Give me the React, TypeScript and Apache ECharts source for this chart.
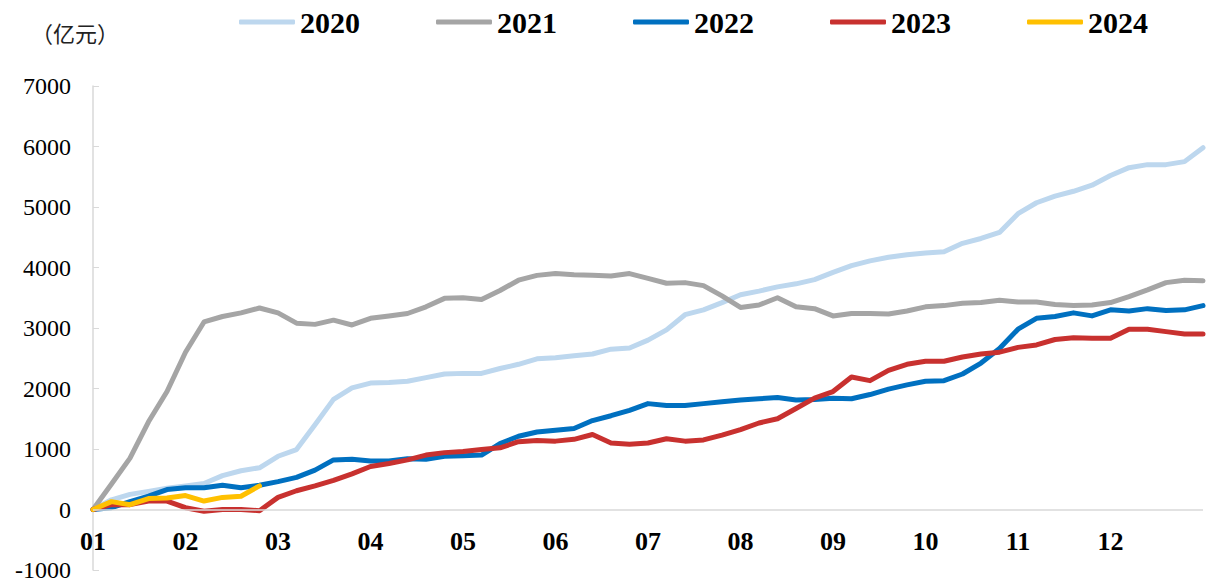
import React, { useEffect, useRef } from "react";
import * as echarts from "echarts";

// x positions in months from Jan 1 (step 0.2 month)
const STEP = 0.2;
const monthLabels = ["01", "02", "03", "04", "05", "06", "07", "08", "09", "10", "11", "12"];
const yTicks = { min: -1000, max: 7000, interval: 1000 };

const s2020 = [
  0, 160, 250, 300, 350, 390, 430, 560, 640, 690, 880,
  990, 1400, 1820, 2010, 2090, 2100, 2120, 2180, 2240, 2250,
  2250, 2330, 2400, 2490, 2510, 2540, 2570, 2650, 2670, 2800,
  2970, 3220, 3300, 3420, 3550, 3610, 3680, 3730, 3800, 3920,
  4030, 4110, 4170, 4210, 4240, 4260, 4400, 4480, 4580, 4890,
  5070, 5180, 5260, 5360, 5520, 5650, 5700, 5700, 5750, 5980,
];
const s2021 = [
  0, 420, 850, 1450, 1950, 2600, 3100, 3190, 3250, 3330, 3250,
  3080, 3060, 3130, 3050, 3160, 3200, 3240, 3350, 3490, 3500,
  3470, 3620, 3790, 3870, 3900, 3880, 3870, 3860, 3900, 3820,
  3740, 3750, 3700, 3530, 3340, 3380, 3500, 3350, 3320, 3200,
  3240, 3240, 3230, 3280, 3350, 3370, 3410, 3420, 3460, 3430,
  3430, 3390, 3370, 3380, 3420, 3520, 3630, 3750, 3790, 3780,
];
const s2022 = [
  0, 30, 130, 220, 330, 360, 360, 400, 360, 400, 460,
  530, 650, 820, 830, 800, 800, 840, 830, 880, 890,
  900, 1090, 1210, 1280, 1310, 1340, 1470, 1550, 1640, 1750,
  1720, 1720, 1750, 1780, 1810, 1830, 1850, 1810, 1820, 1840,
  1830, 1900, 1990, 2060, 2120, 2130, 2240, 2420, 2660, 2980,
  3160, 3190, 3250, 3200, 3300, 3280, 3320, 3290, 3300, 3370,
];
const s2023 = [
  0, 80, 80, 140, 140, 30, -30, 0, 0, -20, 200,
  310, 390, 480, 590, 710, 760, 820, 900, 940, 960,
  990, 1020, 1120, 1140, 1130, 1160, 1240, 1100, 1080, 1100,
  1170, 1130, 1150, 1230, 1320, 1430, 1500, 1670, 1840, 1950,
  2190, 2130, 2300, 2400, 2450, 2450, 2520, 2570, 2600, 2680,
  2720, 2810, 2840, 2830, 2830, 2980, 2980, 2940, 2900, 2900,
];
const s2024 = [0, 130, 80, 180, 190, 230, 140, 200, 220, 390];

const seriesDefs = [
  { name: "2020", data: s2020, color: "#BDD7EE" },
  { name: "2021", data: s2021, color: "#A5A5A5" },
  { name: "2022", data: s2022, color: "#0070C0" },
  { name: "2023", data: s2023, color: "#C8312F" },
  { name: "2024", data: s2024, color: "#FFC000" },
];

const SERIF = "'Liberation Serif', 'Times New Roman', serif";

export default function App() {
  const ref = useRef<HTMLDivElement>(null);
  useEffect(() => {
    document.body.style.margin = "0";
    if (!ref.current) return;
    const chart = echarts.init(ref.current, undefined, { renderer: "svg" });
    chart.setOption({
      animation: false,
      backgroundColor: "#ffffff",
      title: {
        text: "（亿元）",
        left: 26,
        top: 16,
        textStyle: {
          fontSize: 22,
          fontWeight: "normal",
          fontFamily: "Noto Sans CJK SC",
          color: "#222",
        },
      },
      legend: {
        top: 2,
        left: 234,
        itemWidth: 56,
        itemHeight: 5,
        itemGap: 76,
        icon: "roundRect",
        textStyle: { fontFamily: SERIF, fontWeight: "bold", fontSize: 30, color: "#000" },
        data: seriesDefs.map((s) => s.name),
      },
      grid: { left: 93, right: 3, top: 86, bottom: 13, containLabel: false, outerBoundsMode: "none" },
      xAxis: {
        type: "value",
        min: 0,
        max: 12,
        interval: 1,
        axisLine: { show: false },
        axisTick: { show: false },
        splitLine: { show: false },
        axisLabel: {
          margin: -42,
          fontFamily: SERIF,
          fontWeight: "bold",
          fontSize: 26,
          color: "#000",
          showMaxLabel: false,
          formatter: (v: number) => (v >= 0 && v < 12 ? monthLabels[Math.round(v)] : ""),
        },
      },
      yAxis: {
        type: "value",
        min: yTicks.min,
        max: yTicks.max,
        interval: yTicks.interval,
        axisLine: { show: true, lineStyle: { color: "#D9D9D9", width: 1.5 } },
        axisTick: { show: true, inside: true, length: 6, lineStyle: { color: "#D9D9D9" } },
        splitLine: { show: false },
        axisLabel: {
          margin: 22,
          fontFamily: SERIF,
          fontSize: 24,
          color: "#000",
          formatter: (v: number) => String(v),
        },
      },
      series: seriesDefs.map((s, idx) => ({
        name: s.name,
        type: "line",
        data: s.data.map((v, i) => [Number((i * STEP).toFixed(2)), v]),
        showSymbol: false,
        symbol: "none",
        lineStyle: { color: s.color, width: 5, cap: "round", join: "round" },
        itemStyle: { color: s.color },
        markLine:
          idx === 0
            ? {
                silent: true,
                symbol: "none",
                label: { show: false },
                lineStyle: { color: "#D9D9D9", width: 1.5, type: "solid" },
                data: [{ yAxis: 0 }],
              }
            : undefined,
      })),
    });
    return () => chart.dispose();
  }, []);
  return <div ref={ref} style={{ width: 1206, height: 583 }} />;
}
